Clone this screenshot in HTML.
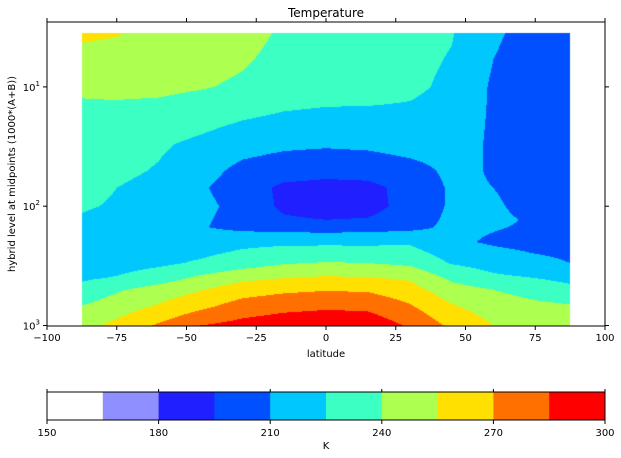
<!DOCTYPE html>
<html><head><meta charset="utf-8">
<style>
body{margin:0;background:#fff;font-family:"Liberation Sans","DejaVu Sans",sans-serif;}
#wrap{position:relative;width:621px;height:458px;overflow:hidden;}
canvas{position:absolute;left:0;top:0;}
svg{position:absolute;left:0;top:0;}
text{font-family:"DejaVu Sans","Liberation Sans",sans-serif;font-size:10px;fill:#000;}
</style></head>
<body>
<div id="wrap">
<canvas id="cv" width="621" height="458"></canvas>
<svg id="sv" width="621" height="458"></svg>
</div>
<script>
const lats = [-87.5,-75,-60,-45,-30,-15,0,15,30,45,60,75,87.5];
const levels = [3.5,10,30,50,70,100,130,150,200,300,400,500,700,1000];
const temps = [
 [258,256,250,248,245,238,234,232,230,226,212,205,205],
 [242,243,243,241,238,234,232,231,228,222,208,202,203],
 [232,230,227,222,216,213,212,213,216,216,208,203,204],
 [230,228,224,216,206,202,200,201,205,213,209,203,204],
 [228,225,221,212,202,192,190,191,200,212,210,204,204],
 [226,224,220,214,205,192,188,190,200,212,212,205,205],
 [224,222,218,212,205,197,195,196,203,213,213,208,206],
 [222,220,216,211,206,204,203,204,206,213,211,208,207],
 [220,219,218,217,221,222,222,222,223,213,208,205,205],
 [218,219,222,227,233,239,241,240,237,224,219,214,210],
 [223,226,233,243,251,255,257,256,253,237,228,225,221],
 [229,238,246,254,263,267,269,268,261,246,240,234,229],
 [241,248,257,267,277,281,283,282,272,257,248,244,242],
 [250,259,272,285,290,294,296,295,283,267,255,252,250]
];
const cbTicks = [150,180,210,240,270,300];
const cbLevels = [150,165,180,195,210,225,240,255,270,285,300];
const colors = ['#ffffff','#8f8fff','#1f1fff','#0050ff','#00c8ff','#3cffc3','#adff50','#ffe000','#ff7000','#ff0000'];
const xTicks = [-100,-75,-50,-25,0,25,50,75,100];

const L=47,R=605,T=22,B=326;
const xS = v => L + (v+100)/200*(R-L);
const yS = p => 325.5 - (3-Math.log10(p))*119.3;
const yInv = y => Math.pow(10, 3-(325.5-y)/119.3);

function colorFor(t){
  for(let i=0;i<cbLevels.length-1;i++){ if(t<cbLevels[i+1]) return colors[i]; }
  return colors[colors.length-1];
}
function hex(c){return [parseInt(c.substr(1,2),16),parseInt(c.substr(3,2),16),parseInt(c.substr(5,2),16)];}
function interp(lat,p){
  let i=0; while(i<lats.length-2 && lat>lats[i+1]) i++;
  let j=0; const lp=Math.log10(p);
  while(j<levels.length-2 && lp>Math.log10(levels[j+1])) j++;
  let fx=(lat-lats[i])/(lats[i+1]-lats[i]);
  let fy=(lp-Math.log10(levels[j]))/(Math.log10(levels[j+1])-Math.log10(levels[j]));
  fx=Math.max(0,Math.min(1,fx)); fy=Math.max(0,Math.min(1,fy));
  const a=temps[j][i],b=temps[j][i+1],c=temps[j+1][i],d=temps[j+1][i+1];
  return a*(1-fx)*(1-fy)+b*fx*(1-fy)+c*(1-fx)*fy+d*fx*fy;
}
const ctx=document.getElementById('cv').getContext('2d');
const img=ctx.createImageData(621,458);
const x0=Math.round(xS(lats[0])), x1=Math.round(xS(lats[lats.length-1]));
const y0=Math.round(yS(levels[0])), y1=Math.round(yS(levels[levels.length-1]));
for(let y=y0;y<y1;y++){
  const p=yInv(y+0.5);
  for(let x=x0;x<x1;x++){
    const lat=(x+0.5-L)/(R-L)*200-100;
    const c=hex(colorFor(interp(lat,p)));
    const k=(y*621+x)*4;
    img.data[k]=c[0];img.data[k+1]=c[1];img.data[k+2]=c[2];img.data[k+3]=255;
  }
}
ctx.putImageData(img,0,0);

const NS='http://www.w3.org/2000/svg';
const sv=document.getElementById('sv');
function el(tag,attrs,parent){const e=document.createElementNS(NS,tag);for(const k in attrs)e.setAttribute(k,attrs[k]);(parent||sv).appendChild(e);return e;}

let frame=el('rect',{x:L,y:T,width:R-L,height:B-T,fill:'none',stroke:'#000','stroke-width':1});



xTicks.forEach(v=>{
  const x=xS(v);
  el('line',{x1:x,x2:x,y1:B,y2:B+4,stroke:'#000'});
  el('line',{x1:x,x2:x,y1:T,y2:T-4,stroke:'#000'});
  const t=el('text',{x:x,y:B+15,'text-anchor':'middle'});
  t.textContent=v<0?'\u2212'+(-v):String(v);
  
  
});
[1,2,3].forEach(e=>{
  const y=yS(Math.pow(10,e));
  el('line',{x1:L,x2:L-4,y1:y,y2:y,stroke:'#000'});
  el('line',{x1:R,x2:R+4,y1:y,y2:y,stroke:'#000'});
  const t=el('text',{x:L-7,y:y+4,'text-anchor':'end'});
  t.innerHTML='10<tspan dy="-5" style="font-size:7px">'+e+'</tspan>';
  
  
});

let tt=el('text',{x:326,y:17,'text-anchor':'middle',style:'font-size:12px'});tt.textContent='Temperature';

let xl=el('text',{x:326,y:357,'text-anchor':'middle'});xl.textContent='latitude';

let yl=el('text',{x:15,y:174,'text-anchor':'middle',transform:'rotate(-90 15 174)'});yl.textContent='hybrid level at midpoints (1000*(A+B))';


// colorbar
const CT=392,CB=420;
const cx=v=>L+(v-150)/150*(R-L);
for(let i=0;i<colors.length;i++){
  const r=el('rect',{x:cx(cbLevels[i]),y:CT,width:cx(cbLevels[i+1])-cx(cbLevels[i])+0.5,height:CB-CT,fill:colors[i]});
  
  
}
el('rect',{x:L,y:CT,width:R-L,height:CB-CT,fill:'none',stroke:'#000'});
cbTicks.forEach(v=>{
  const x=cx(v);
  el('line',{x1:x,x2:x,y1:CB,y2:CB+4,stroke:'#000'});
  el('line',{x1:x,x2:x,y1:CT,y2:CT-3,stroke:'#000'});
  const t=el('text',{x:x,y:CB+16,'text-anchor':'middle'});t.textContent=String(v);
  
  
});
let kl=el('text',{x:326,y:449,'text-anchor':'middle'});kl.textContent='K';

</script>
</body></html>
